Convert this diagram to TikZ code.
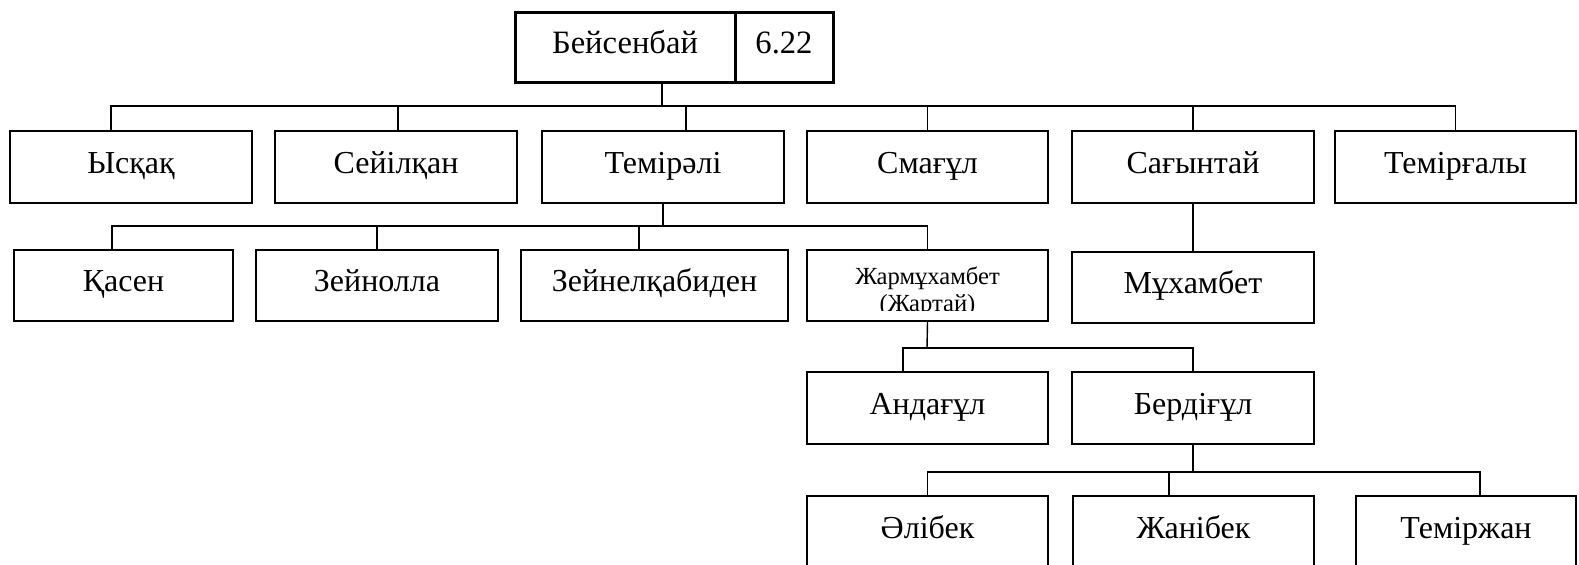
\documentclass[tikz,border=0pt]{standalone}
\usepackage{fontspec}
\setmainfont{Liberation Serif}
\tikzset{
  person/.style={draw,line width=0.65pt,inner sep=0pt,minimum width=121pt,minimum height=36pt,
    text height=11pt,text depth=5pt,font=\fontsize{16}{19}\selectfont},
  head/.style={person,line width=1.5pt,minimum height=35pt,font=\fontsize{16.3}{19}\selectfont},
  link/.style={line width=0.7pt}
}
\begin{document}
\begin{tikzpicture}[x=0.5pt,y=-0.5pt]
  \useasboundingbox (0,0) rectangle (1579,564);
  \node[head,minimum width=110pt] (beysenbay) at (625,47) {Бейсенбай}; %тамыр
  \node[head,minimum width=49pt] (year) at (784,47) {6.22};
  % 1-буын
  \node[person] (ysqaq) at (131,167) {Ысқақ};
  \node[person] (seyilqan) at (396,167) {Сейілқан};
  \node[person] (temirali) at (663,167) {Темірәлі};
  \node[person,minimum width=120.5pt] (smagul) at (927.5,167) {Смағұл};
  \node[person] (sagyntai) at (1193,167) {Сағынтай};
  \node[person,minimum width=120.5pt] (temirgaly) at (1455.5,167) {Темірғалы};
  % 2-буын
  \node[person,minimum width=109.5pt,minimum height=35.5pt] (qasen) at (123.5,285.5) {Қасен};
  \node[person,minimum height=35.5pt] (zeynolla) at (377,285.5) {Зейнолла};
  \node[person,minimum width=133.5pt,minimum height=35.5pt] (zeynel) at (654.5,285.5) {Зейнелқабиден};
  \node[person,minimum width=120.5pt,minimum height=35.5pt] (zharm) at (927.5,285.5) {};
  \node[person,minimum height=35.5pt] (mukhambet) at (1193,287.5) {Мұхамбет};
  \begin{scope}
    \clip (zharm.north west) rectangle ([yshift=5.5pt]zharm.south east);
    \node[anchor=base,align=center,font=\fontsize{12.3}{13.5}\selectfont] (zharmtext) at (927.5,311) {Жармұхамбет\\(Жартай)};
  \end{scope}
  % 3-буын
  \node[person,minimum width=120.5pt] (andagul) at (927.5,408) {Андағұл};
  \node[person] (berdigul) at (1193,408) {Бердіғұл};
  % 4-буын
  \node[person,minimum width=120.5pt] (alibek) at (927.5,532) {Әлібек};
  \node[person,minimum width=120.5pt] (zhanibek) at (1193.5,532) {Жанібек};
  \node[person,minimum width=110pt] (temirzhan) at (1466,532) {Теміржан};

  \coordinate (b1) at (662,106);
  \draw[link] ([xshift=18.5pt]beysenbay.south) -- (b1);
  \draw[link] ([xshift=-10pt]ysqaq.north) |- (b1) -| (temirgaly.north);
  \foreach \n/\s in {seyilqan/1pt,temirali/11.5pt,smagul/0pt,sagyntai/0pt}
    \draw[link] ([xshift=\s]\n.north) -- ([xshift=\s]\n.north |- b1);
  \coordinate (b2) at (663,226);
  \draw[link] (temirali.south) -- (b2);
  \draw[link] ([xshift=-5.75pt]qasen.north) |- (b2) -| (zharm.north);
  \foreach \n/\s in {zeynolla/0pt,zeynel/-7.75pt}
    \draw[link] ([xshift=\s]\n.north) -- ([xshift=\s]\n.north |- b2);
  \draw[link] (sagyntai.south) -- (mukhambet.north);
  \coordinate (b3) at (927,348);
  \draw[link] (zharm.south) -- (b3);
  \draw[link] ([xshift=-12.25pt]andagul.north) |- (b3) -| (berdigul.north);
  \coordinate (b4) at (1193,472);
  \draw[link] (berdigul.south) -- (b4);
  \draw[link] (alibek.north) |- (b4) -| ([xshift=7pt]temirzhan.north);
  \draw[link] ([xshift=-12.25pt]zhanibek.north) -- ([xshift=-12.25pt]zhanibek.north |- b4);
\end{tikzpicture}
\end{document}
